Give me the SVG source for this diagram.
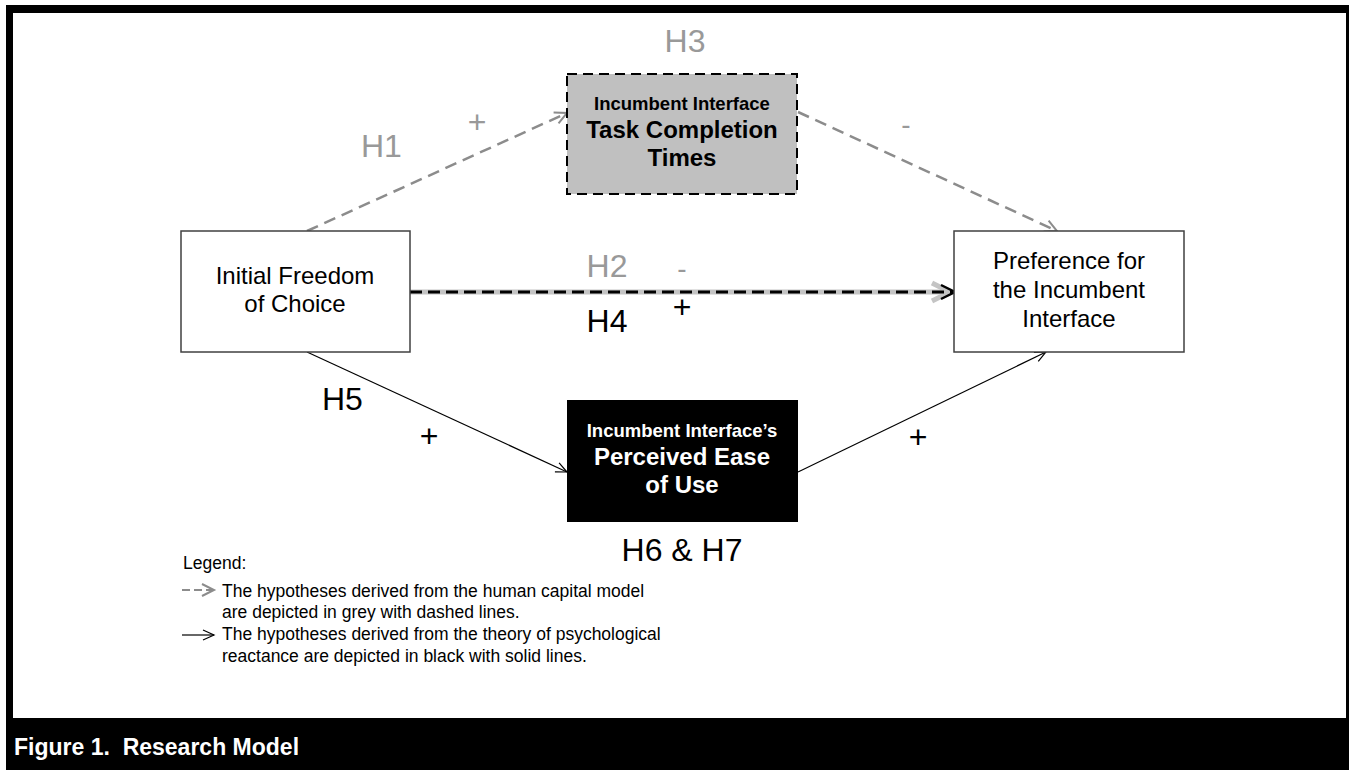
<svg xmlns="http://www.w3.org/2000/svg" width="1349" height="770" viewBox="0 0 1349 770">
<defs>
<style>
text{font-family:"Liberation Sans",Arial,sans-serif}
.lbl{font-size:24px;fill:#000;text-anchor:middle}
.hg{font-size:32px;fill:#999999}
.hb{font-size:32px;fill:#000}
.sign{font-size:28px}
.plus{font-size:32px}
.leg{font-size:17.5px;fill:#000}
.box{fill:#fff;stroke:#404040;stroke-width:1.5}
.gdash{fill:none;stroke:#8c8c8c;stroke-width:2.5;stroke-dasharray:12 7}
.solid{fill:none;stroke:#000;stroke-width:1.2}
</style>
<marker id="ag" markerUnits="userSpaceOnUse" markerWidth="20" markerHeight="20" viewBox="0 0 20 20" refX="14" refY="10" orient="auto">
<path d="M2,4 L14,10 L2,16" fill="none" stroke="#8c8c8c" stroke-width="2"/>
</marker>
<marker id="ab" markerUnits="userSpaceOnUse" markerWidth="20" markerHeight="20" viewBox="0 0 20 20" refX="14" refY="10" orient="auto">
<path d="M3,5 L14,10 L3,15" fill="none" stroke="#000" stroke-width="1.2"/>
</marker>
<marker id="abig" markerUnits="userSpaceOnUse" markerWidth="30" markerHeight="30" viewBox="0 0 30 30" refX="22" refY="15" orient="auto">
<path d="M4,6 L22,15 L4,24" fill="none" stroke="#c4c4c4" stroke-width="5"/>
</marker>
<marker id="abk" markerUnits="userSpaceOnUse" markerWidth="24" markerHeight="24" viewBox="0 0 24 24" refX="18" refY="12" orient="auto">
<path d="M4,5 L18,12 L4,19" fill="none" stroke="#000" stroke-width="2.5"/>
</marker>
</defs>

<g id="frame">
<rect x="6" y="5" width="1343" height="765" fill="#000"/>
<rect x="13" y="13" width="1333" height="705" fill="#fff"/>
<text x="14" y="755" font-size="23" font-weight="bold" fill="#fff" xml:space="preserve" style="white-space:pre">Figure 1.  Research Model</text>
</g>

<g id="connectors">
<line x1="307" y1="231" x2="567" y2="113" class="gdash" marker-end="url(#ag)"/>
<line x1="798" y1="112" x2="1057" y2="231" class="gdash" marker-end="url(#ag)"/>
<line x1="410" y1="292" x2="950" y2="292" stroke="#c4c4c4" stroke-width="5" marker-end="url(#abig)"/>
<line x1="410" y1="292" x2="955" y2="292" stroke="#000" stroke-width="3" stroke-dasharray="12 6" marker-end="url(#abk)"/>
<line x1="307" y1="352" x2="567" y2="472" class="solid" marker-end="url(#ab)"/>
<line x1="798" y1="472" x2="1046" y2="352" class="solid" marker-end="url(#ab)"/>
</g>

<g id="node-initial">
<rect x="181" y="231" width="229" height="121" class="box"/>
<text class="lbl" x="295" y="284">Initial Freedom</text>
<text class="lbl" x="295" y="312">of Choice</text>
</g>

<g id="node-preference">
<rect x="954" y="231" width="230" height="121" class="box"/>
<text class="lbl" x="1069" y="269">Preference for</text>
<text class="lbl" x="1069" y="298">the Incumbent</text>
<text class="lbl" x="1069" y="327">Interface</text>
</g>

<g id="node-task">
<rect x="567" y="74" width="230" height="120" fill="#c0c0c0" stroke="#000" stroke-width="2" stroke-dasharray="10 6"/>
<text x="682" y="110" font-size="18.5" font-weight="bold" text-anchor="middle">Incumbent Interface</text>
<text x="682" y="138" font-size="24" font-weight="bold" text-anchor="middle">Task Completion</text>
<text x="682" y="166" font-size="24" font-weight="bold" text-anchor="middle">Times</text>
</g>

<g id="node-ease">
<rect x="567" y="400" width="231" height="122" fill="#000"/>
<text x="682" y="437" font-size="18.5" font-weight="bold" fill="#fff" text-anchor="middle">Incumbent Interface’s</text>
<text x="682" y="465" font-size="24" font-weight="bold" fill="#fff" text-anchor="middle">Perceived Ease</text>
<text x="682" y="493" font-size="24" font-weight="bold" fill="#fff" text-anchor="middle">of Use</text>
</g>

<g id="labels">
<text class="hg" x="361" y="157">H1</text>
<text class="plus" x="477" y="133" fill="#999999" text-anchor="middle">+</text>
<text class="hg" x="685" y="52" text-anchor="middle">H3</text>
<text class="sign" x="906" y="134" fill="#999999" text-anchor="middle">-</text>
<text class="hg" x="607" y="277" font-size="30" text-anchor="middle">H2</text>
<text class="sign" x="682" y="278" fill="#999999" text-anchor="middle">-</text>
<text class="hb" x="607" y="332" font-size="30" text-anchor="middle">H4</text>
<text class="plus" x="682" y="318" fill="#000" text-anchor="middle">+</text>
<text class="hb" x="322" y="410">H5</text>
<text class="plus" x="429" y="447" fill="#000" text-anchor="middle">+</text>
<text class="plus" x="918" y="448" fill="#000" text-anchor="middle">+</text>
<text class="hb" x="682" y="561" text-anchor="middle">H6 &amp; H7</text>
</g>

<g id="legend">
<text class="leg" x="183" y="569">Legend:</text>
<line x1="182" y1="590" x2="214" y2="590" stroke="#8c8c8c" stroke-width="2" stroke-dasharray="8 4" marker-end="url(#ag)"/>
<text class="leg" x="222" y="597">The hypotheses derived from the human capital model</text>
<text class="leg" x="222" y="618">are depicted in grey with dashed lines.</text>
<line x1="182" y1="635" x2="214" y2="635" class="solid" marker-end="url(#ab)"/>
<text class="leg" x="222" y="640">The hypotheses derived from the theory of psychological</text>
<text class="leg" x="222" y="662">reactance are depicted in black with solid lines.</text>
</g>
</svg>
